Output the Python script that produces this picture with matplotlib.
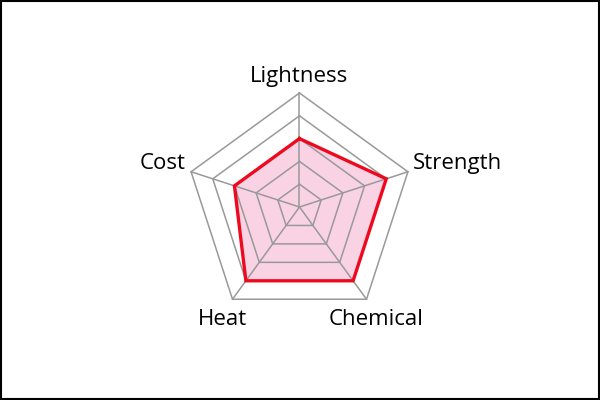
import numpy as np
import matplotlib.pyplot as plt
from matplotlib.patches import Rectangle

plt.rcParams['font.family'] = ['Open Sans', 'DejaVu Sans']

# radar data
labels = ["Lightness", "Strength", "Chemical", "Heat", "Cost"]
values = [3, 4, 4, 4, 3]
max_val = 5
rings = [1, 2, 3, 4, 5]

# layout (pixels)
W, H = 600, 400
cx, cy = 299.5, 207.0   # centre from top-left
R = 114.0
upp = max_val / R       # data units per pixel

fig = plt.figure(figsize=(6, 4), dpi=100)
ax = fig.add_axes([0, 0, 1, 1])
ax.set_xlim(-cx * upp, (W - cx) * upp)
ax.set_ylim(-(H - cy) * upp, cy * upp)
ax.set_aspect('equal')
ax.axis('off')

n = len(labels)
ang = np.deg2rad(90 - 360.0 / n * np.arange(n))

def to_xy(r):
    r = np.asarray(r, dtype=float)
    x = r * np.cos(ang)
    y = r * np.sin(ang)
    return np.append(x, x[0]), np.append(y, y[0])

# filled area
vx, vy = to_xy(values)
ax.fill(vx, vy, color='#f7bcd6', alpha=0.65, lw=0, zorder=1)

# grid
for r in rings:
    gx, gy = to_xy([r] * n)
    ax.plot(gx, gy, color='#999999', lw=1.1, zorder=2)
for a in ang:
    ax.plot([0, max_val * np.cos(a)], [0, max_val * np.sin(a)],
            color='#999999', lw=1.1, zorder=2)

# data outline
ax.plot(vx, vy, color='#ee0a1e', lw=2.4, zorder=3, solid_joinstyle='miter')

# axis labels
offsets = [(0, 16, 'center'), (5, 8, 'left'), (10, -20, 'center'),
           (-10, -20, 'center'), (-5, 8, 'right')]
for lab, a, (dx, dy, ha) in zip(labels, ang, offsets):
    ax.annotate(lab, (max_val * np.cos(a), max_val * np.sin(a)),
                xytext=(dx, dy), textcoords='offset pixels',
                ha=ha, va='center', fontsize=16, color='black')

# frame around the picture
fig.patches.append(Rectangle((0.001, 0.0015), 0.998, 0.997, transform=fig.transFigure,
                             fill=False, edgecolor='black', lw=1.5))

fig.savefig("out.png", dpi=100)
